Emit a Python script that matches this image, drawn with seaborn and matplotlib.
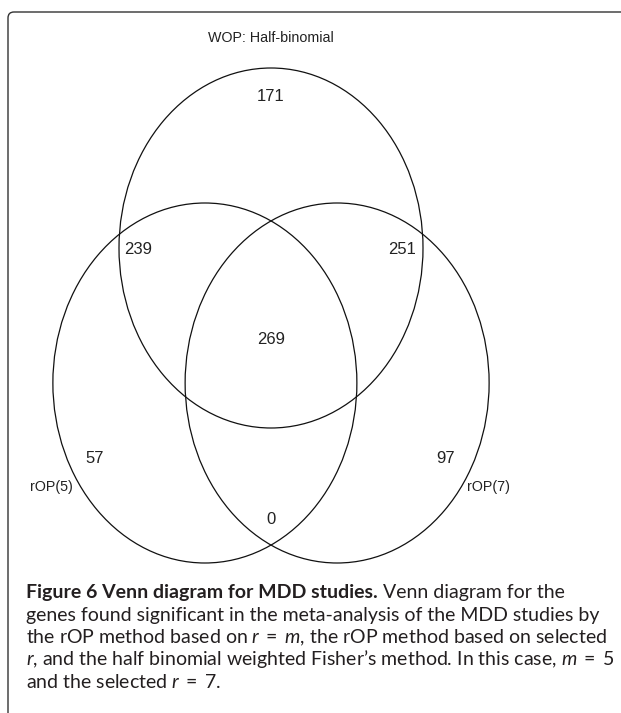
import matplotlib
matplotlib.use("Agg")
import matplotlib.pyplot as plt
import seaborn as sns
from matplotlib.patches import Ellipse, FancyBboxPatch
from matplotlib.transforms import IdentityTransform

# Venn data: three gene sets and the seven region counts
set_names = ["WOP: Half-binomial", "rOP(5)", "rOP(7)"]
region_names = ["WOP only", "WOP & rOP(5)", "WOP & rOP(7)", "all three",
                "rOP(5) only", "rOP(7) only", "rOP(5) & rOP(7)"]
region_counts = [171, 239, 251, 269, 57, 97, 0]

# layout in venn units (circle radius = 1)
set_cx = [0.0, -0.435, 0.435]
set_cy = [0.75, 0.0, 0.0]
name_x = [0.0, -1.447, 1.434]
name_y = [1.917, -0.578, -0.578]
region_x = [0.0, -0.875, 0.862, 0.0, -1.158, 1.151, 0.0]
region_y = [1.589, 0.744, 0.744, 0.244, -0.417, -0.417, -0.761]

caption_bold = "Figure 6 Venn diagram for MDD studies."
caption_lines = [
    "Venn diagram for the",
    "genes found significant in the meta-analysis of the MDD studies by",
    r"the rOP method based on $r\;=\;m$, the rOP method based on selected",
    "$r$, and the half binomial weighted Fisher\u2019s method. In this case, $m\\;=\\;5$",
    r"and the selected $r\;=\;7$.",
]

sns.set_theme(style="white")
plt.rcParams["font.family"] = ["Liberation Sans", "DejaVu Sans"]
plt.rcParams["mathtext.fontset"] = "custom"
plt.rcParams["mathtext.rm"] = "Lato"
plt.rcParams["mathtext.it"] = "Lato:italic"
plt.rcParams["mathtext.bf"] = "Lato:bold"

W, H = 621, 713
fig = plt.figure(figsize=(W / 100, H / 100), dpi=100)
fig.patch.set_facecolor("white")

# pixel centre of the lower pair = (271, 383), radius 152 px wide, 180 px tall
ax = fig.add_axes([0, 0, 1, 1])
ax.set_xlim(-271 / 152, (W - 271) / 152)
ax.set_ylim((383 - H) / 180, 383 / 180)
ax.axis("off")

for cx, cy in zip(set_cx, set_cy):
    ax.add_patch(Ellipse((cx, cy), 2, 2, fill=False, ec="#111111", lw=0.9))

for x, y, n in zip(region_x, region_y, region_counts):
    ax.text(x, y, str(n), ha="center", va="center", fontsize=12, color="#222222")

for x, y, s in zip(name_x, name_y, set_names):
    ax.text(x, y, s, ha="center", va="center", fontsize=10.3, color="#222222")

# frame around the figure panel (runs off right/bottom edges)
frame = FancyBboxPatch((8, -40), 700, H - 12 + 40,
                       boxstyle="round,pad=0,rounding_size=6",
                       transform=IdentityTransform(), fill=False,
                       ec="#333333", lw=1.0)
fig.add_artist(frame)

# caption
cap_x = 26
baselines = [598, 621, 643, 665, 688]
cap_kw = dict(fontsize=14, family="Lato", color="#231f20", va="baseline",
              transform=IdentityTransform())
renderer = fig.canvas.get_renderer()
t = fig.text(cap_x, H - baselines[0], caption_bold, fontweight="bold", **cap_kw)
bb = t.get_window_extent(renderer)
fig.text(bb.x1 + 5, H - baselines[0], caption_lines[0], **cap_kw)
for line, b in zip(caption_lines[1:], baselines[1:]):
    fig.text(cap_x, H - b, line, **cap_kw)

fig.savefig("out.png", dpi=100, facecolor="white")
